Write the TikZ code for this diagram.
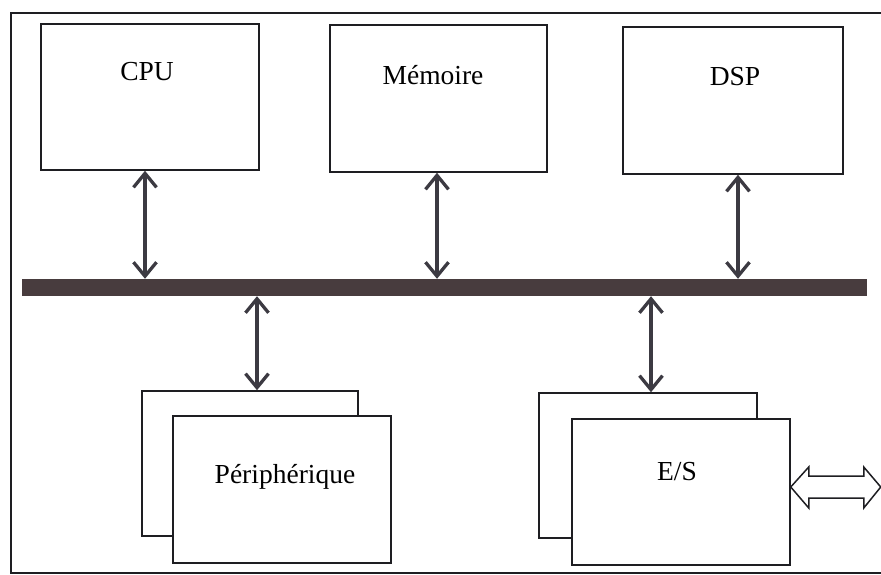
\documentclass[tikz,border=0pt]{standalone}
\usepackage{fontspec}
\setmainfont{Liberation Serif}
\usetikzlibrary{arrows.meta}
\definecolor{buscol}{RGB}{72,60,62}
\definecolor{arrowcol}{RGB}{60,58,66}
\definecolor{edgecol}{RGB}{30,30,34}
\tikzset{
  unitbox/.style={draw=edgecol, line width=1.5pt, fill=white, rectangle, inner sep=0pt},
  lbl/.style={font=\fontsize{27.5}{32}\selectfont, text=black, inner sep=0pt},
  biarrow/.style={draw=arrowcol, line width=3.3pt,
    {Straight Barb[length=14pt,width=23pt]}-{Straight Barb[length=14pt,width=23pt]}},
  hollowarrow/.style={draw=edgecol, line width=1.5pt, fill=white, line join=miter},
  frameline/.style={draw=edgecol, line width=1.6pt}
}
\begin{document}
\begin{tikzpicture}[x=1pt,y=-1pt]
\useasboundingbox (0,0) rectangle (881,575);
% outer frame, its right side lies past the page edge
\draw[frameline] (890,13) -- (11,13) -- (11,573) -- (890,573);

% processing units on top of the bus
\node[unitbox, minimum width=218pt, minimum height=146pt] (cpu) at (150,97) {};
\node[lbl] (cpulbl) at (147,72) {CPU};
\node[unitbox, minimum width=217pt, minimum height=147pt] (mem) at (438.5,98.5) {};
\node[lbl] (memlbl) at (433,75) {Mémoire};
\node[unitbox, minimum width=220pt, minimum height=147pt] (dsp) at (733,100.5) {};
\node[lbl] (dsplbl) at (735,77) {DSP};

% system bus
\node[rectangle, fill=buscol, inner sep=0pt, minimum width=845pt, minimum height=17pt] (bus) at (444.5,287.5) {};

% stacked peripheral units
\node[unitbox, minimum width=216pt, minimum height=145pt] (perb) at (250,463.5) {};
\node[unitbox, minimum width=218pt, minimum height=147pt] (perf) at (282,489.5) {};
\node[lbl] (perlbl) at (285,477) {Périphérique};

% stacked input/output units
\node[unitbox, minimum width=218pt, minimum height=145pt] (esb) at (648,465.5) {};
\node[unitbox, minimum width=218pt, minimum height=146pt] (esf) at (681,492) {};
\node[lbl] (eslbl) at (677,472) {E/S};

% bus taps
\coordinate (xcpu) at (145,0);
\coordinate (xmem) at (437,0);
\coordinate (xdsp) at (738,0);
\coordinate (xper) at (257,0);
\coordinate (xes) at (651,0);
\draw[biarrow] (cpu.south -| xcpu) -- (bus.north -| xcpu);
\draw[biarrow] (mem.south -| xmem) -- (bus.north -| xmem);
\draw[biarrow] (dsp.south -| xdsp) -- (bus.north -| xdsp);
\draw[biarrow] (bus.south -| xper) -- (perb.north -| xper);
\draw[biarrow] (bus.south -| xes) -- (esb.north -| xes);

% external link of the input/output unit
\coordinate (iolink) at (0,487);
\coordinate (iotip) at (esf.east |- iolink);
\draw[hollowarrow] (iotip) -- ++(18,-20) -- ++(0,9) -- ++(55,0) -- ++(0,-9)
  -- ++(17,20) -- ++(-17,21) -- ++(0,-10) -- ++(-55,0) -- ++(0,10) -- cycle;
\end{tikzpicture}
\end{document}
